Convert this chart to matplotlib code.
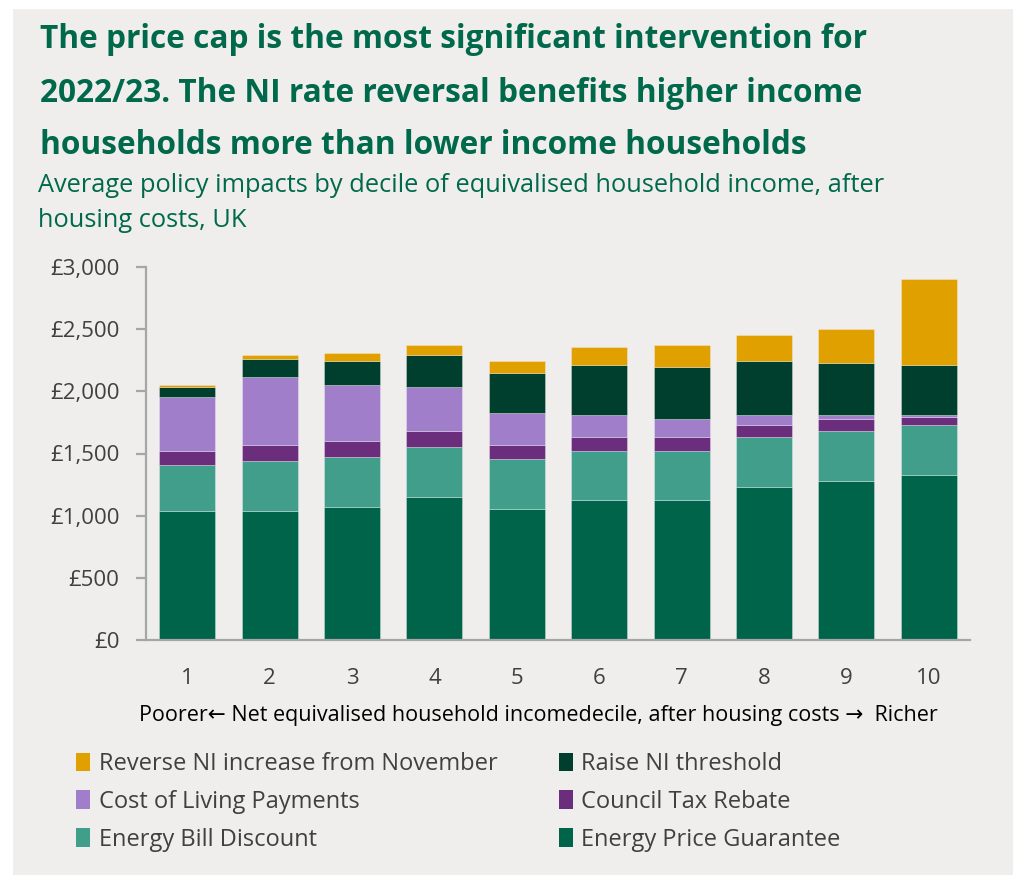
import matplotlib.pyplot as plt
from matplotlib.patches import Rectangle, Patch
from matplotlib.ticker import FuncFormatter

deciles = ['1', '2', '3', '4', '5', '6', '7', '8', '9', '10']

# stacked from the bottom up
energy_price_guarantee = [1039, 1039, 1071, 1151, 1055, 1122, 1122, 1232, 1280, 1326]
energy_bill_discount = [370, 402, 403, 403, 402, 400, 400, 403, 403, 405]
council_tax_rebate = [110, 126, 126, 124, 110, 107, 107, 91, 91, 59]
cost_of_living = [435, 548, 451, 356, 261, 180, 148, 83, 35, 19]
raise_ni_threshold = [78, 142, 190, 255, 316, 400, 416, 432, 416, 400]
reverse_ni_increase = [19, 35, 67, 84, 100, 148, 180, 212, 277, 692]

series = [
    ('Energy Price Guarantee', energy_price_guarantee, '#00644A'),
    ('Energy Bill Discount', energy_bill_discount, '#409E8A'),
    ('Council Tax Rebate', council_tax_rebate, '#6A2E7D'),
    ('Cost of Living Payments', cost_of_living, '#A07ECA'),
    ('Raise NI threshold', raise_ni_threshold, '#003F2D'),
    ('Reverse NI increase from November', reverse_ni_increase, '#DFA000'),
]

title_lines = ['The price cap is the most significant intervention for',
               '2022/23. The NI rate reversal benefits higher income',
               'households more than lower income households']
subtitle_lines = ['Average policy impacts by decile of equivalised household income, after',
                  'housing costs, UK']

bg = '#EFEEEC'
green = '#00694B'
grey_text = '#404040'
W, H = 1013, 885

fig = plt.figure(figsize=(W / 100, H / 100), dpi=100, facecolor='white')
fig.patches.append(Rectangle((13 / W, 1 - 875 / H), 1, (875 - 9) / H,
                             transform=fig.transFigure, facecolor=bg,
                             edgecolor='none', zorder=-10))

ax = fig.add_axes([146 / W, 1 - 640 / H, (970 - 146) / W, (640 - 267) / H])
ax.set_facecolor(bg)

x = list(range(1, len(deciles) + 1))
bottom = [0] * len(deciles)
for name, vals, col in series:
    ax.bar(x, vals, width=0.68, bottom=bottom, color=col,
           edgecolor=(1, 1, 1, 0.35), linewidth=0.6, label=name)
    bottom = [p + v for p, v in zip(bottom, vals)]

ax.set_xlim(0.5, 10.5)
ax.set_ylim(0, 3000)
ax.set_yticks(range(0, 3001, 500))
ax.yaxis.set_major_formatter(FuncFormatter(lambda v, p: f'£{int(v):,}'))
ax.set_xticks(x)
ax.set_xticklabels(deciles)

for s in ['top', 'right']:
    ax.spines[s].set_visible(False)
for s in ['left', 'bottom']:
    ax.spines[s].set_color('#A6A6A6')
    ax.spines[s].set_linewidth(1.6)

ax.tick_params(axis='y', length=7, width=1.6, color='#A6A6A6', pad=12,
               labelsize=16, labelcolor=grey_text)
ax.tick_params(axis='x', length=0, pad=20, labelsize=16, labelcolor=grey_text)
for lab in ax.get_xticklabels() + ax.get_yticklabels():
    lab.set_fontfamily('Open Sans')

fig.text(538 / W, 1 - 715 / H,
         'Poorer\u2190 Net equivalised household incomedecile, after housing costs \u2192  Richer',
         ha='center', va='center', fontsize=15.5, color='black',
         family=['Open Sans', 'DejaVu Sans'])

for line, base in zip(title_lines, [48, 102, 154]):
    fig.text(40 / W, 1 - base / H, line, ha='left', va='baseline', fontsize=22.8,
             fontweight='bold', color=green, family='Open Sans')

for line, base in zip(subtitle_lines, [192, 227]):
    fig.text(38 / W, 1 - base / H, line, ha='left', va='baseline', fontsize=18.3,
             color=green, family='Open Sans')

order = ['Reverse NI increase from November', 'Cost of Living Payments', 'Energy Bill Discount',
         'Raise NI threshold', 'Council Tax Rebate', 'Energy Price Guarantee']
colors = {n: c for n, _, c in series}
leg_handles = [Patch(facecolor=colors[n], edgecolor='none') for n in order]
fig.legend(leg_handles, order, ncol=2, loc='upper left',
           bbox_to_anchor=(55 / W, 1 - 731 / H), frameon=False,
           prop={'family': 'Open Sans', 'size': 17},
           handlelength=0.6, handleheight=0.85, handletextpad=0.35,
           columnspacing=2.6, labelspacing=0.58, labelcolor=grey_text)

fig.savefig('out.png', dpi=100, facecolor=fig.get_facecolor())
